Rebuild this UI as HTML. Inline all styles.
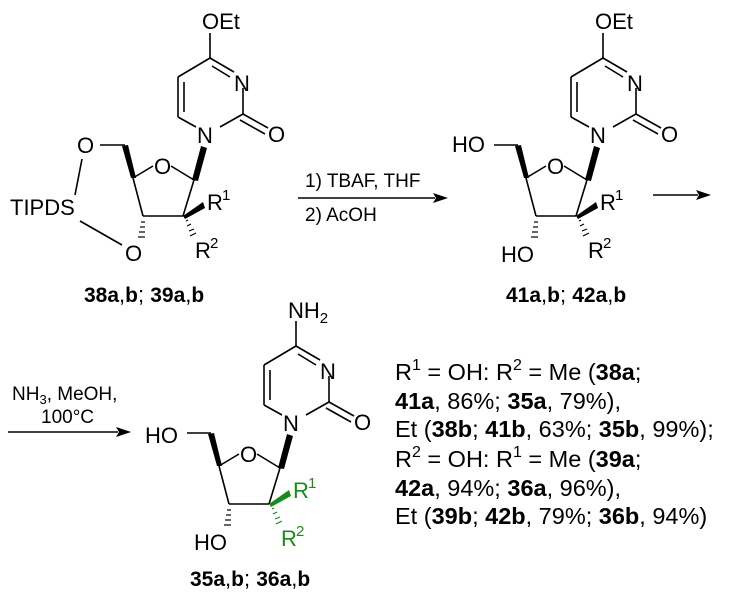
<!DOCTYPE html>
<html><head><meta charset="utf-8"><style>
html,body{margin:0;padding:0;background:#fff;}
svg{display:block;font-family:"Liberation Sans",Arial,sans-serif;}
text{font-size:22px;fill:#000;}
.b{font-weight:bold;font-size:21px;}
.s{font-size:15px;}
.r{font-size:23.5px;}
.r .b{font-size:23.5px;}
.r .s{font-size:16px;}
.g{fill:#1a8a1a;}
</style></head><body>
<svg width="736" height="599" viewBox="0 0 736 599" xmlns="http://www.w3.org/2000/svg">
<defs>
<g id="base" stroke="#000" stroke-width="1.6" fill="none">
  <line x1="210" y1="33" x2="210" y2="58"/>
  <line x1="210" y1="58" x2="178" y2="77"/>
  <line x1="210" y1="58" x2="234" y2="72"/>
  <line x1="212" y1="66" x2="230" y2="77"/>
  <line x1="243" y1="88" x2="243" y2="114"/>
  <line x1="243" y1="114" x2="268" y2="128"/>
  <line x1="240" y1="120" x2="265" y2="134"/>
  <line x1="243" y1="114" x2="220" y2="127"/>
  <line x1="178" y1="77" x2="178" y2="117"/>
  <line x1="184" y1="82" x2="184" y2="112"/>
  <line x1="178" y1="117" x2="196" y2="127"/>
  <line x1="133" y1="178" x2="153" y2="166"/>
  <line x1="171" y1="166" x2="194" y2="180"/>
  <line x1="194" y1="180" x2="183" y2="216"/>
  <line x1="183" y1="216" x2="143" y2="216"/>
  <line x1="143" y1="216" x2="133" y2="178"/>
</g>
<g id="fill">
  <polygon points="192,180 198,181 207,148 201,146" fill="#000"/>
  <polygon points="131,178 136,178 128,145 122,146" fill="#000"/>
</g>
<g id="hash" stroke="#000" stroke-width="1.2">
  <line x1="141" y1="222" x2="145" y2="222"/>
  <line x1="140" y1="227" x2="145" y2="227"/>
  <line x1="139" y1="232" x2="145" y2="232"/>
  <line x1="138" y1="237" x2="145" y2="237"/>
</g>
<g id="wedge2">
  <polygon points="183,216 185,219 205,208 203,202"/>
</g>
<g id="hash2" stroke-width="1.2">
  <line x1="186" y1="221" x2="188" y2="220"/><line x1="187" y1="226" x2="191" y2="224"/><line x1="189" y1="231" x2="194" y2="229"/><line x1="190" y1="236" x2="196" y2="233"/>
</g>
<g id="labels">
  <text x="234" y="91">N</text>
  <text x="268" y="142">O</text>
  <text x="197" y="143">N</text>
  <text x="154" y="174">O</text>
</g>
</defs>

<!-- Structure 1 -->
<use href="#base"/><use href="#fill"/><use href="#hash"/><use href="#labels"/>
<use href="#wedge2" fill="#000"/><use href="#hash2" stroke="#000"/>
<text x="202" y="29">OEt</text>
<g stroke="#000" stroke-width="1.6">
<line x1="125" y1="145" x2="100" y2="145"/>
<line x1="82" y1="159" x2="75" y2="195"/>
<line x1="80" y1="221" x2="122" y2="245"/>
</g>
<text x="77" y="153">O</text>
<text x="10" y="215">TIPDS</text>
<text x="125" y="261">O</text>
<text x="207" y="210">R</text><text class="s" x="222" y="200">1</text>
<text x="195" y="258">R</text><text class="s" x="210" y="248">2</text>
<text x="84" y="302"><tspan class="b">38a</tspan>,<tspan class="b">b</tspan>; <tspan class="b">39a</tspan>,<tspan class="b">b</tspan></text>

<!-- Arrow 1 -->
<line x1="298" y1="198" x2="435" y2="198" stroke="#000" stroke-width="1.5"/>
<polygon points="448,198 433,193 436,198 433,203" fill="#000"/>
<text x="305" y="187" style="font-size:19px">1) TBAF, THF</text>
<text x="305" y="221" style="font-size:19px">2) AcOH</text>

<!-- Structure 2 -->
<g transform="translate(393,0)">
<use href="#base"/><use href="#fill"/><use href="#hash"/><use href="#labels"/>
<use href="#wedge2" fill="#000"/><use href="#hash2" stroke="#000"/>
<text x="202" y="29">OEt</text>
<line x1="125" y1="145" x2="101" y2="145" stroke="#000" stroke-width="1.6"/>
<text x="207" y="210">R</text><text class="s" x="222" y="200">1</text>
<text x="195" y="258">R</text><text class="s" x="210" y="248">2</text>
<text x="108" y="262">HO</text>
</g>
<text x="452" y="152">HO</text>
<text x="506" y="302"><tspan class="b">41a</tspan>,<tspan class="b">b</tspan>; <tspan class="b">42a</tspan>,<tspan class="b">b</tspan></text>

<!-- Arrow 2 -->
<line x1="653" y1="195" x2="698" y2="195" stroke="#000" stroke-width="1.5"/>
<polygon points="711,195 696,190 699,195 696,200" fill="#000"/>

<!-- Arrow 3 -->
<line x1="8" y1="432" x2="118" y2="432" stroke="#000" stroke-width="1.5"/>
<polygon points="131,432 116,427 119,432 116,437" fill="#000"/>
<text x="12" y="400" style="font-size:19px">NH<tspan style="font-size:13px" dy="4">3</tspan><tspan dy="-4">, MeOH,</tspan></text>
<text x="41" y="423" style="font-size:19px">100°C</text>

<!-- Structure 3 -->
<g transform="translate(86,288)">
<use href="#base"/><use href="#fill"/><use href="#hash"/><use href="#labels"/>
<use href="#wedge2" fill="#1a8a1a"/><use href="#hash2" stroke="#1a8a1a"/>
<line x1="125" y1="145" x2="101" y2="145" stroke="#000" stroke-width="1.6"/>
<text class="g" x="207" y="210">R</text><text class="s g" x="222" y="200">1</text>
<text class="g" x="195" y="258">R</text><text class="s g" x="210" y="248">2</text>
<text x="108" y="262">HO</text>
</g>
<text x="288" y="318">NH<tspan class="s" dy="5">2</tspan></text>
<text x="145" y="443">HO</text>
<text x="190" y="586"><tspan class="b">35a</tspan>,<tspan class="b">b</tspan>; <tspan class="b">36a</tspan>,<tspan class="b">b</tspan></text>

<!-- Right text -->
<g class="r">
<text class="r" x="395" y="380">R<tspan class="s" dy="-10">1</tspan><tspan dy="10"> = OH: R</tspan><tspan class="s" dy="-10">2</tspan><tspan dy="10"> = Me (</tspan><tspan class="b">38a</tspan>;</text>
<text class="r" x="395" y="409"><tspan class="b">41a</tspan>, 86%; <tspan class="b">35a</tspan>, 79%),</text>
<text class="r" x="395" y="437">Et (<tspan class="b">38b</tspan>; <tspan class="b">41b</tspan>, 63%; <tspan class="b">35b</tspan>, 99%);</text>
<text class="r" x="395" y="467">R<tspan class="s" dy="-10">2</tspan><tspan dy="10"> = OH: R</tspan><tspan class="s" dy="-10">1</tspan><tspan dy="10"> = Me  (</tspan><tspan class="b">39a</tspan>;</text>
<text class="r" x="395" y="496"><tspan class="b">42a</tspan>, 94%; <tspan class="b">36a</tspan>, 96%),</text>
<text class="r" x="395" y="524">Et (<tspan class="b">39b</tspan>; <tspan class="b">42b</tspan>, 79%; <tspan class="b">36b</tspan>, 94%)</text>
</g>
</svg>
</body></html>
